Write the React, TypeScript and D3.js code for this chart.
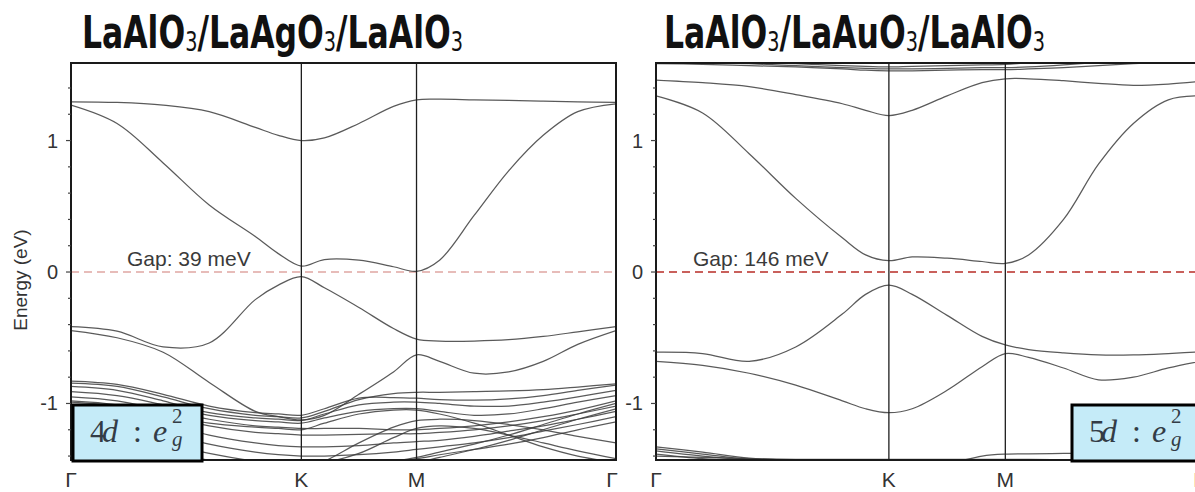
import React from 'react';
import * as d3 from 'd3';

const width = 1195;
const height = 492;

// k path: Γ -> K -> M -> Γ (hexagonal BZ lengths)
const kPts = [0, 0.2, 0.4, 0.6, 0.8, 0.9, 1.0, 1.1, 1.25, 1.4, 1.5, 1.6, 1.75, 1.9, 2.05, 2.2, 2.366];
const kTicks = [0, 1, 1.5, 2.366];
const kLabels = ['Γ', 'K', 'M', 'Γ'];
const eTicks = d3.range(-14, 15, 2).map(d => d / 10);
const eLabels = [-1, 0, 1];

// LaAlO3/LaAgO3/LaAlO3 bands (eV)
const agBand1 = [1.295, 1.29, 1.27, 1.22, 1.10, 1.04, 1.00, 1.02, 1.13, 1.26, 1.31, 1.315, 1.31, 1.305, 1.30, 1.295, 1.29];
const agBand2 = [1.27, 1.13, 0.83, 0.51, 0.27, 0.14, 0.045, 0.095, 0.09, 0.04, 0.005, 0.09, 0.43, 0.77, 1.04, 1.22, 1.28];
const agBand3 = [-0.415, -0.45, -0.57, -0.54, -0.21, -0.10, -0.035, -0.12, -0.27, -0.43, -0.51, -0.525, -0.525, -0.515, -0.49, -0.455, -0.415];
const agBand4 = [-0.445, -0.50, -0.61, -0.84, -1.06, -1.10, -1.125, -1.09, -0.93, -0.76, -0.63, -0.68, -0.77, -0.76, -0.68, -0.55, -0.445];
const agDense = [
  [-0.845, -0.87, -0.95, -1.04, -1.09, -1.10, -1.11, -1.06, -0.97, -0.925, -0.915, -0.915, -0.91, -0.905, -0.895, -0.875, -0.85],
  [-0.87, -0.90, -0.98, -1.07, -1.11, -1.12, -1.13, -1.08, -1.01, -0.99, -0.99, -1.00, -1.02, -1.02, -0.99, -0.95, -0.90],
  [-0.91, -0.94, -1.01, -1.09, -1.13, -1.14, -1.15, -1.11, -1.06, -1.04, -1.04, -1.06, -1.09, -1.08, -1.04, -0.99, -0.94],
  [-0.95, -0.98, -1.05, -1.12, -1.17, -1.18, -1.19, -1.19, -1.19, -1.20, -1.20, -1.19, -1.17, -1.14, -1.10, -1.05, -0.98],
  [-0.99, -1.02, -1.09, -1.17, -1.22, -1.23, -1.24, -1.24, -1.235, -1.23, -1.23, -1.22, -1.20, -1.17, -1.13, -1.08, -1.02],
  [-1.05, -1.08, -1.15, -1.24, -1.30, -1.32, -1.33, -1.33, -1.32, -1.30, -1.29, -1.28, -1.25, -1.21, -1.17, -1.12, -1.06],
  [-1.12, -1.15, -1.22, -1.31, -1.37, -1.39, -1.40, -1.40, -1.39, -1.37, -1.35, -1.33, -1.30, -1.26, -1.21, -1.16, -1.10],
  [-1.20, -1.23, -1.30, -1.38, -1.44, -1.46, -1.47, -1.47, -1.46, -1.44, -1.42, -1.39, -1.35, -1.31, -1.26, -1.20, -1.14],
  [-1.30, -1.34, -1.40, -1.46, -1.50, -1.50, -1.50, -1.44, -1.30, -1.18, -1.13, -1.12, -1.13, -1.16, -1.20, -1.25, -1.30],
  [-1.50, -1.50, -1.50, -1.50, -1.50, -1.49, -1.47, -1.45, -1.38, -1.26, -1.19, -1.17, -1.19, -1.24, -1.30, -1.36, -1.42],
  [-0.98, -1.01, -1.08, -1.15, -1.18, -1.19, -1.20, -1.15, -1.08, -1.05, -1.05, -1.08, -1.15, -1.24, -1.33, -1.40, -1.45],
  [-1.28, -1.32, -1.38, -1.43, -1.47, -1.48, -1.49, -1.49, -1.47, -1.44, -1.41, -1.37, -1.31, -1.24, -1.16, -1.08, -1.00],
  [-1.40, -1.44, -1.48, -1.50, -1.52, -1.52, -1.52, -1.51, -1.50, -1.48, -1.45, -1.41, -1.35, -1.28, -1.20, -1.12, -1.04],
  [-0.83, -0.855, -0.93, -1.02, -1.07, -1.08, -1.09, -1.04, -0.96, -0.955, -0.96, -0.97, -0.975, -0.965, -0.94, -0.90, -0.86],
];

// LaAlO3/LaAuO3/LaAlO3 bands (eV)
const auTop = [
  [1.585, 1.58, 1.57, 1.56, 1.545, 1.535, 1.53, 1.53, 1.535, 1.54, 1.54, 1.545, 1.555, 1.57, 1.585, 1.60, 1.62],
  [1.60, 1.595, 1.585, 1.57, 1.555, 1.55, 1.545, 1.545, 1.55, 1.555, 1.555, 1.56, 1.575, 1.595, 1.62, 1.63, 1.64],
  [1.62, 1.61, 1.60, 1.585, 1.57, 1.565, 1.56, 1.565, 1.57, 1.575, 1.58, 1.59, 1.60, 1.62, 1.64, 1.65, 1.66],
];
const auBand1 = [1.46, 1.44, 1.41, 1.35, 1.28, 1.23, 1.19, 1.23, 1.34, 1.44, 1.47, 1.47, 1.455, 1.435, 1.42, 1.43, 1.455];
const auBand2 = [1.34, 1.21, 0.90, 0.56, 0.26, 0.13, 0.086, 0.115, 0.105, 0.08, 0.065, 0.13, 0.40, 0.82, 1.13, 1.31, 1.34];
const auBand3 = [-0.61, -0.62, -0.68, -0.57, -0.32, -0.17, -0.10, -0.17, -0.33, -0.49, -0.555, -0.59, -0.615, -0.63, -0.63, -0.62, -0.605];
const auBand4 = [-0.68, -0.71, -0.77, -0.86, -0.98, -1.04, -1.07, -1.04, -0.90, -0.72, -0.62, -0.65, -0.73, -0.82, -0.80, -0.73, -0.67];
const auLow = [
  [-1.33, -1.37, -1.415, -1.435, -1.45, -1.46, -1.47, -1.47, -1.47, -1.46, -1.45, -1.45, -1.45, -1.45, -1.45, -1.45, -1.45],
  [-1.345, -1.385, -1.425, -1.44, -1.46, -1.47, -1.48, -1.48, -1.48, -1.47, -1.46, -1.46, -1.46, -1.46, -1.46, -1.46, -1.46],
  [-1.36, -1.40, -1.43, -1.45, -1.47, -1.48, -1.49, -1.49, -1.49, -1.48, -1.47, -1.47, -1.47, -1.47, -1.47, -1.47, -1.47],
  [-1.385, -1.42, -1.44, -1.46, -1.48, -1.49, -1.50, -1.50, -1.50, -1.49, -1.48, -1.48, -1.48, -1.48, -1.48, -1.48, -1.48],
  [-1.50, -1.50, -1.50, -1.50, -1.50, -1.50, -1.50, -1.49, -1.46, -1.40, -1.385, -1.383, -1.38, -1.378, -1.375, -1.373, -1.37],
  [-1.40, -1.41, -1.42, -1.425, -1.425, -1.425, -1.425, -1.425, -1.425, -1.425, -1.425, -1.425, -1.43, -1.44, -1.45, -1.46, -1.47],
];

const agBands = [agBand1, agBand2, agBand3, agBand4, ...agDense];
const auBands = [...auTop, auBand1, auBand2, auBand3, auBand4, ...auLow];

const y = d3.scaleLinear().domain([-1.43, 1.59]).range([460, 63]);

const sans = "'Liberation Sans', Arial, sans-serif";
const narrow = "'Liberation Sans Narrow', 'DejaVu Sans Condensed', 'Liberation Sans', sans-serif";
const serif = "'Liberation Serif', 'DejaVu Serif', serif";

type PanelProps = {
  id: string;
  left: number;
  right: number;
  bands: number[][];
  metal: string;
  titleX: number;
  gap: string;
  gapX: number;
  dash: string;
  dashW: number;
  boxX: number;
  digit: string;
  yLabel?: boolean;
};

const Panel = ({ id, left, right, bands, metal, titleX, gap, gapX, dash, dashW, boxX, digit, yLabel }: PanelProps) => {
  const x = d3.scaleLinear().domain([0, 2.366]).range([left, right]);
  const line = d3.line<number>()
    .x((d, i) => x(kPts[i]))
    .y(d => y(d))
    .curve(d3.curveCatmullRom.alpha(0.5));
  const top = y.range()[1];
  const bottom = y.range()[0];
  const bx = boxX;
  // last Γ label: nudge inward so its edge still shows when the panel runs off the page
  const lastX = (k: number) => Math.min(x(k) - 4, width + 4);
  return (
    <g>
      <defs>
        <clipPath id={`clip-${id}`}>
          <rect x={left} y={top} width={right - left} height={bottom - top} />
        </clipPath>
      </defs>
      <text x={titleX} y={48} fontFamily={narrow} fontWeight="bold" fontSize={44}
        textLength={381} lengthAdjust="spacingAndGlyphs" fill="#111">
        LaAlO<tspan fontSize={27} fontWeight={400} dy={3}>3</tspan>
        <tspan dy={-3}>/La{metal}O</tspan><tspan fontSize={27} fontWeight={400} dy={3}>3</tspan>
        <tspan dy={-3}>/LaAlO</tspan><tspan fontSize={27} fontWeight={400} dy={3}>3</tspan>
      </text>
      <g clipPath={`url(#clip-${id})`}>
        <line x1={left} x2={right} y1={y(0)} y2={y(0)} stroke={dash} strokeWidth={dashW} strokeDasharray="8 5" />
        {bands.map((b, i) => (
          <path key={i} d={line(b) || ''} fill="none" stroke="#3d3d3d" strokeWidth={1.25} strokeOpacity={0.85} />
        ))}
      </g>
      {kTicks.slice(1, 3).map((k, i) => (
        <line key={i} x1={x(k)} x2={x(k)} y1={top} y2={bottom} stroke="#1e1e1e" strokeWidth={1.3} />
      ))}
      <rect x={left} y={top} width={right - left} height={bottom - top} fill="none" stroke="#1a1a1a" strokeWidth={2} />
      {eTicks.map(t => (
        <line key={t} x1={left} x2={left - (Math.abs(t % 1) < 1e-9 ? 5 : 3)} y1={y(t)} y2={y(t)} stroke="#444" strokeWidth={1.2} />
      ))}
      {eLabels.map(t => (
        <text key={t} x={left - 13} y={y(t) + 7} textAnchor="end" fontFamily={sans} fontSize={20} fill="#333">{t}</text>
      ))}
      {kTicks.map((k, i) => (
        <text key={i} x={i === 3 ? lastX(k) : x(k)} y={487} textAnchor="middle" fontFamily={sans} fontSize={21} fill="#333">{kLabels[i]}</text>
      ))}
      <text x={gapX} y={266} fontFamily={sans} fontSize={21} fill="#3a3a3a">{gap}</text>
      {yLabel && (
        <text transform="translate(27,280) rotate(-90)" textAnchor="middle" fontFamily={sans} fontSize={19} fill="#333">Energy (eV)</text>
      )}
      <rect x={bx} y={405} width={129} height={56} fill="#c5ebf8" stroke="#000" strokeWidth={3} />
      <g fontFamily={serif} fill="#333c46">
        <text x={bx + 17} y={442} fontSize={32}>{digit}</text>
        <text x={bx + 29} y={442} fontSize={32} fontStyle="italic">d</text>
        <text x={bx + 60} y={442} fontSize={32}>:</text>
        <text x={bx + 80} y={442} fontSize={32} fontStyle="italic">e</text>
        <text x={bx + 99} y={423} fontSize={21}>2</text>
        <text x={bx + 99} y={446} fontSize={21} fontStyle="italic">g</text>
      </g>
    </g>
  );
};

const App = () => {
  return (
    <svg width={width} height={height} style={{ position: 'absolute', left: 0, top: 0, background: '#fff' }}>
      <rect width={width} height={height} fill="#fff" />
      <Panel id="ag" left={71} right={616} bands={agBands} metal="Ag" titleX={82}
        gap="Gap: 39 meV" gapX={127} dash="#e0a6a2" dashW={1.5} boxX={73} digit="4" yLabel />
      <Panel id="au" left={656} right={1207} bands={auBands} metal="Au" titleX={664}
        gap="Gap: 146 meV" gapX={693} dash="#c9605b" dashW={2} boxX={1072} digit="5" />
    </svg>
  );
};

export default App;
